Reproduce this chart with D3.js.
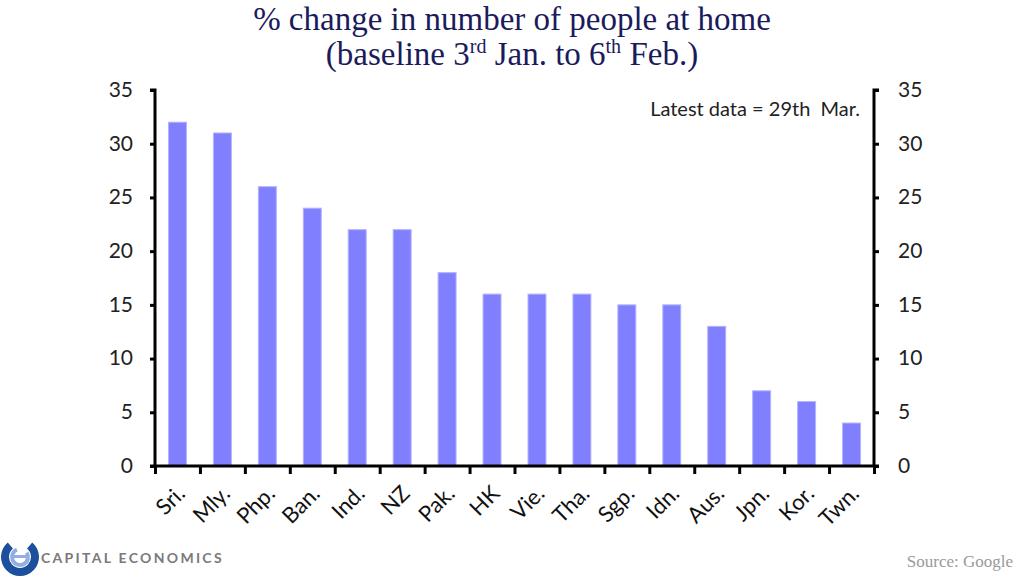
<!DOCTYPE html>
<html><head><meta charset="utf-8">
<script src="https://cdn.jsdelivr.net/npm/d3@7"></script>
<style>body{margin:0;background:#fff}svg{display:block}</style>
</head><body>
<svg id="c" width="1024" height="583"></svg>
<script>
const categories = ["Sri.","Mly.","Php.","Ban.","Ind.","NZ","Pak.","HK","Vie.","Tha.","Sgp.","Idn.","Aus.","Jpn.","Kor.","Twn."];
const values = [32,31,26,24,22,22,18,16,16,16,15,15,13,7,6,4];
const yTicks = [0,5,10,15,20,25,30,35];

const svg = d3.select("#c");
const L = 155, R = 874, T = 90, B = 466;
const x = d3.scaleBand().domain(categories).range([L, R]).paddingInner(0.6).paddingOuter(0.3);
const y = d3.scaleLinear().domain([0,35]).range([B, T]);
const sans = "Lato, 'Open Sans', sans-serif";
const serif = "'Liberation Serif', 'DejaVu Serif', serif";
const navy = "#1b1b5c";

// title
svg.append("text").attr("x",512).attr("y",30).attr("text-anchor","middle")
  .attr("fill",navy).style("font-family",serif).style("font-size","33px")
  .text("% change in number of people at home");
const t2 = svg.append("text").attr("x",512).attr("y",65).attr("text-anchor","middle")
  .attr("fill",navy).style("font-family",serif).style("font-size","33px");
t2.append("tspan").text("(baseline 3");
t2.append("tspan").attr("dy",-12).style("font-size","20px").text("rd");
t2.append("tspan").attr("dy",12).text(" Jan. to 6");
t2.append("tspan").attr("dy",-12).style("font-size","20px").text("th");
t2.append("tspan").attr("dy",12).text(" Feb.)");

// bars
svg.append("g").selectAll("rect").data(values).join("rect")
  .attr("x",(d,i)=>x(categories[i])).attr("width",x.bandwidth())
  .attr("y",d=>y(d)).attr("height",d=>B-y(d))
  .attr("fill","#8080ff").attr("stroke","#b3b3ff").attr("stroke-width",1);

// axes
const axL = svg.append("g").attr("transform",`translate(${L},0)`)
  .call(d3.axisLeft(y).tickValues(yTicks).tickSize(5).tickPadding(17));
const axR = svg.append("g").attr("transform",`translate(${R},0)`)
  .call(d3.axisRight(y).tickValues(yTicks).tickSize(5).tickPadding(19));
[axL,axR].forEach(g=>{
  g.selectAll("path").attr("stroke","#000").attr("stroke-width",3);
  g.selectAll("line").attr("stroke","#000").attr("stroke-width",3);
  g.selectAll("text").style("font-family",sans).style("font-size","21px").attr("fill","#222").attr("dy","0.3em");
});
axL.select("path").attr("d",`M-5,${T}H0V${B}`);
axR.select("path").attr("d",`M5,${T}H0V${B}`);

// bottom axis with ticks at band boundaries
const xb = d3.scaleLinear().domain([0,categories.length]).range([L,R]);
const axB = svg.append("g").attr("transform",`translate(0,${B})`)
  .call(d3.axisBottom(xb).tickValues(d3.range(categories.length+1)).tickSize(8).tickFormat(""));
axB.select("path").attr("stroke","#000").attr("stroke-width",3).attr("d",`M${L-5},0H${R+5}`);
axB.selectAll("line").attr("stroke","#000").attr("stroke-width",3);

// category labels
svg.append("g").selectAll("text").data(categories).join("text")
  .attr("transform",d=>`translate(${x(d)+x.bandwidth()/2+9},${B+29}) rotate(-45)`)
  .attr("text-anchor","end")
  .style("font-family",sans).style("font-size","22px").attr("fill","#111")
  .text(d=>d);

// annotation
svg.append("text").attr("x",860).attr("y",116).attr("text-anchor","end")
  .style("font-family",sans).style("font-size","20px").style("white-space","pre").attr("fill","#222")
  .text("Latest data = 29th  Mar.");

// source
svg.append("text").attr("x",1013).attr("y",567).attr("text-anchor","end")
  .style("font-family",serif).style("font-size","17px").attr("fill","#9a9a9a")
  .text("Source: Google");

// logo
const lg = svg.append("g").attr("transform","translate(20,557)");
const arc = d3.arc();
lg.append("path").attr("d",arc({innerRadius:11,outerRadius:19,startAngle:0.7,endAngle:2*Math.PI-0.7})).attr("fill","#1c4f9c");
lg.append("path").attr("d",arc({innerRadius:6,outerRadius:10,startAngle:1.0,endAngle:2*Math.PI-0.4})).attr("fill","#93aee0");
lg.append("rect").attr("x",-7).attr("y",-2).attr("width",14).attr("height",3).attr("fill","#93aee0");
svg.append("text").attr("x",41).attr("y",563)
  .style("font-family",sans).style("font-size","14px").style("font-weight","bold")
  .style("letter-spacing","2.3px").attr("fill","#7a7a7a").text("CAPITAL ECONOMICS");
</script>
</body></html>
